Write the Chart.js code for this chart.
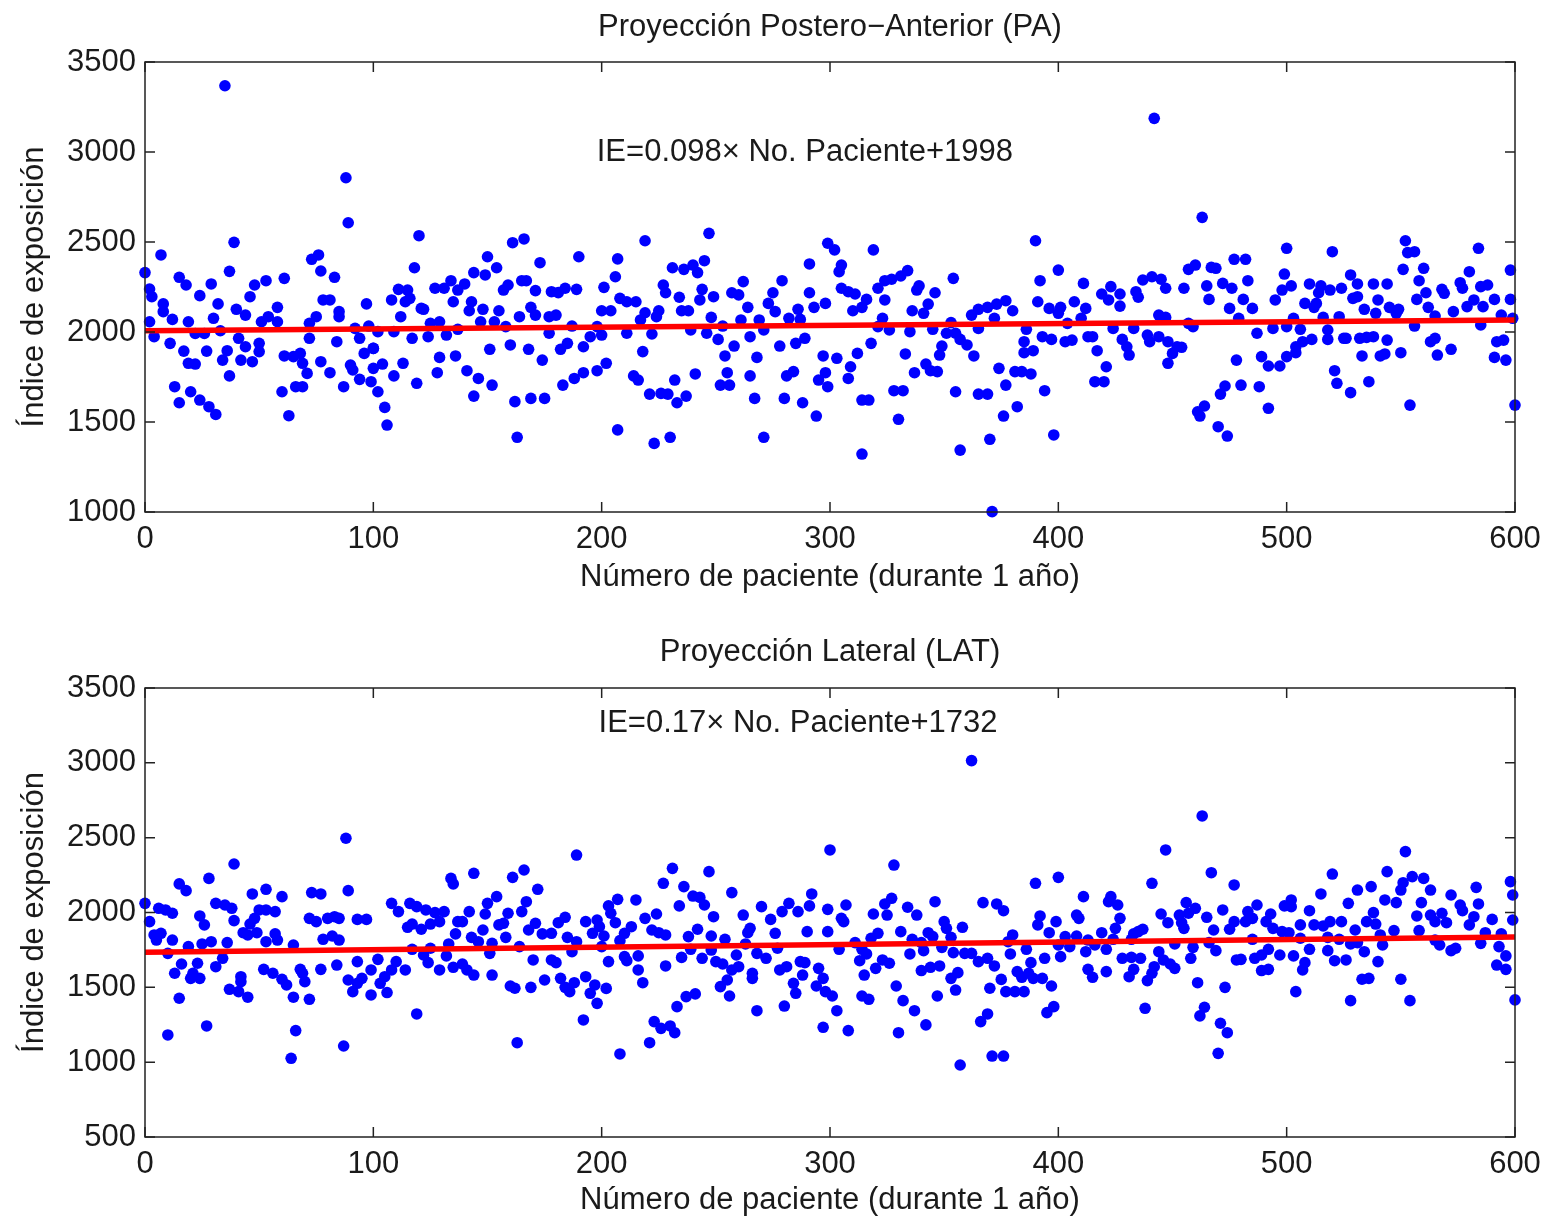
<!DOCTYPE html>
<html>
<head>
<meta charset="utf-8">
<script src="https://cdn.jsdelivr.net/npm/chart.js@4.4.1/dist/chart.umd.min.js"></script>
<style>
  body { margin: 0; background: #fff; overflow: hidden; }
  .panel { position: absolute; left: 0; width: 1545px; height: 608px; }
</style>
</head>
<body>
<div class="panel" style="top:0"><canvas id="pa" width="1545" height="608"></canvas></div>
<div class="panel" style="top:608px"><canvas id="lat" width="1545" height="608"></canvas></div>
<script>
// --- Data ---
const xTicks = [0, 100, 200, 300, 400, 500, 600];
const paYTicks = [1000, 1500, 2000, 2500, 3000, 3500];
const latYTicks = [500, 1000, 1500, 2000, 2500, 3000, 3500];

// Proyección Postero-Anterior (PA)
const paX = [
  35,88,89,39,7,0,37,2,3,15,18,29,24,32,8,8,12,2,19,4,11,17,22,26,30,33,27,36,34,19,22,37,13,15,20,24,28,31,40,44,41,44,42,47,50,50,46,48,53,51,54,58,58,61,61,65,68,69,71,60,66,69,63,72,75,72,73,76,77,83,78,81,85,85,84,77,81,87,90,91,94,99,92,94,96,97,98,100,100,100,102,
  120,118,161,166,150,154,173,190,144,149,111,115,108,114,116,127,131,134,137,140,135,143,142,157,159,165,167,171,178,181,184,189,201,112,121,122,148,147,155,164,169,171,177,180,200,102,109,117,125,129,124,132,137,153,158,177,187,198,195,192,185,182,104,113,109,129,136,128,151,160,168,174,141,146,152,119,105,106,144,162,169,175,163,183,188,192,198,
  247,219,207,206,231,236,240,242,245,227,228,234,244,243,249,262,257,260,264,208,211,215,204,219,225,224,235,238,248,217,200,211,222,239,246,253,261,251,258,254,265,269,271,273,275,276,279,282,287,286,291,291,293,298,299,278,285,289,297,218,202,214,216,232,241,255,252,256,265,268,221,226,229,233,237,267,280,281,284,288,294,295,298,299,207,223,230,271,
  302,319,390,305,304,334,331,327,324,321,354,339,338,305,308,311,316,324,314,310,346,343,336,341,323,321,326,335,345,353,351,355,357,360,363,349,348,333,318,312,303,309,308,337,342,344,347,362,365,369,365,372,373,377,380,374,377,381,384,388,386,385,389,385,391,392,393,397,396,400,328,332,314,317,330,355,365,369,376,382,394,370,357,314,398,371,
  442,463,477,482,457,460,467,469,500,499,483,411,437,441,445,447,455,465,472,476,466,481,485,475,498,495,419,423,427,422,427,434,435,407,412,401,400,404,410,444,447,457,459,479,487,494,500,403,406,413,415,424,433,439,440,444,428,430,431,417,421,448,452,454,450,448,416,420,478,489,492,497,500,473,471,480,488,492,464,461,462,470,474,
  552,553,556,584,520,551,560,558,580,598,502,510,515,514,519,524,528,531,538,544,529,531,540,534,539,545,549,548,508,512,513,557,561,562,568,569,565,573,576,579,577,585,588,591,586,582,598,594,599,503,506,516,523,518,518,511,507,504,504,525,526,532,535,538,544,533,541,543,550,556,563,565,566,572,585,592,595,591,596,521,522,528,536,554,600
];
const paY = [
  3368,2857,2607,2498,2428,2330,2337,2239,2196,2304,2261,2267,2202,2156,2156,2113,2070,2057,2057,1974,1937,1894,1992,1992,2076,2007,1894,1896,1844,1826,1822,1756,1696,1607,1668,1622,1585,1542,2126,2094,1965,1918,1844,1835,1937,1891,2196,2261,2285,2057,2085,2137,2057,2298,1867,1863,1881,1826,1770,1668,1696,1696,1535,2048,2085,1965,2404,2428,2339,2304,2178,2178,2113,2085,1946,1835,1774,1696,1816,1789,1737,1724,2020,1965,1881,2156,2033,1909,1798,1909,1668,
  2535,2357,2496,2517,2418,2357,2385,2418,2330,2317,2237,2233,2178,2168,2187,2243,2243,2285,2233,2267,2168,2168,2118,2233,2261,2285,2285,2230,2224,2219,2243,2237,2248,2085,2131,2126,2126,2057,2118,2085,2137,2094,2085,2094,2118,2002,2002,1965,2048,2057,1974,1983,2015,2057,2030,1993,2033,2030,1974,1918,1937,1904,1822,1826,1756,1859,1867,1774,1904,1928,1904,1844,1785,1742,1705,1715,1581,1483,1644,1613,1631,1631,1415,1705,1742,1774,1785,
  2548,2507,2406,2307,2357,2348,2372,2330,2396,2261,2218,2193,2237,2178,2196,2280,2218,2206,2137,2187,2168,2168,2118,2107,2118,2085,2118,2118,2081,2067,1983,1993,1989,2011,1993,2033,2067,1959,1922,1867,1974,2067,2011,2159,2218,2113,2285,2076,2070,2126,2378,2218,2137,2159,2493,1922,1937,1965,1867,1891,1826,1756,1733,1733,1767,1774,1705,1705,1756,1859,1655,1659,1655,1607,1644,1631,1631,1756,1780,1607,1533,1733,1774,1696,1456,1381,1415,1415,
  2456,2456,2507,2372,2335,2341,2311,2293,2285,2243,2298,2256,2233,2243,2224,2211,2181,2178,2137,2118,2218,2155,2118,2104,2076,2030,2011,2002,2015,2052,1993,1993,1959,1928,1867,1922,1872,1878,1937,1881,1854,1807,1742,1774,1822,1785,1780,2094,2126,2137,2020,2076,2155,2174,2118,1798,1705,1780,1780,1767,2015,1946,1896,1885,2168,2285,1974,1959,2131,2344,1674,1674,1622,1622,1515,1668,1655,1655,1533,1585,1674,1404,1344,1322,1428,1002,
  3187,2637,2404,2404,2348,2372,2359,2354,2465,2322,2285,2270,2289,2307,2293,2243,2243,2256,2270,2243,2181,2181,2131,2131,2233,2178,2211,2252,2211,2178,2144,2224,2193,2168,2131,2137,2104,2048,2076,2094,2081,2048,2030,2076,1993,2020,2030,1946,1955,1974,1974,2020,2020,1983,1946,1974,1959,1918,1872,1896,1807,1946,1918,1915,1881,1826,1724,1724,1844,1863,1811,1811,1863,1700,1655,1705,1696,1576,1589,1557,1533,1474,1422,
  2507,2441,2446,2465,2446,2348,2354,2285,2335,2344,2256,2267,2256,2218,2233,2243,2317,2267,2267,2267,2187,2196,2178,2126,2104,2137,2126,2104,2159,2137,2159,2181,2218,2137,2237,2215,2089,2113,2274,2141,2243,2252,2261,2181,2141,2178,2181,2094,2076,2076,2015,2081,2085,2011,1959,1959,1946,1918,1885,1965,1965,1965,1970,1974,1955,1867,1867,1878,1885,2033,1946,1965,1872,1904,2039,1946,1955,1859,1844,1785,1715,1663,1724,1594,1594
];

// Proyección Lateral (LAT)
const latX = [
  88,89,39,28,15,18,0,6,9,12,2,24,26,31,35,38,39,47,53,60,50,53,57,48,46,43,45,49,53,57,58,4,7,5,12,19,25,29,36,10,16,13,23,21,20,24,34,31,42,42,37,41,45,15,52,56,60,62,65,68,69,70,72,65,72,75,73,77,78,82,85,80,83,85,93,97,77,84,93,89,93,95,99,91,99,10,27,66,64,87,
  189,144,166,161,134,135,172,108,116,119,123,111,127,131,142,150,154,167,165,159,149,137,139,129,125,115,117,121,155,157,148,136,143,146,158,152,168,171,174,178,181,184,185,189,193,196,199,198,117,125,133,164,187,200,102,110,108,114,105,103,106,122,124,132,129,135,139,141,144,151,152,170,178,180,160,162,169,175,182,184,186,188,193,195,198,197,119,192,163,
  300,231,247,227,236,257,240,243,245,207,215,203,234,282,292,291,270,204,206,219,224,249,262,274,279,286,299,201,213,210,222,225,228,242,238,248,254,265,264,276,290,299,208,239,248,259,263,268,272,277,210,216,211,216,203,228,235,244,250,253,257,260,266,266,278,281,287,289,288,284,285,295,297,294,298,202,218,252,255,256,237,241,233,268,280,223,226,230,232,221,208,297,
  362,328,400,390,307,305,306,324,327,325,319,334,338,346,367,373,376,392,391,399,396,350,351,358,331,321,318,343,345,336,340,353,380,378,311,304,314,316,313,335,341,349,354,359,362,365,369,372,379,386,388,394,401,323,326,320,340,344,348,315,356,353,375,382,384,387,389,393,397,370,377,381,385,355,301,314,317,329,332,337,347,303,395,398,369,366,308,330,342,371,376,357,
  463,447,441,467,477,411,423,422,426,427,425,408,409,456,460,457,453,445,448,454,455,465,468,472,477,475,483,482,487,485,493,491,494,499,498,419,435,437,433,424,403,408,413,416,400,405,412,421,432,451,459,469,466,485,492,489,486,497,428,432,436,444,446,449,451,458,433,442,441,439,413,415,421,431,478,480,489,492,461,473,438,464,462,471,474,470,
  552,520,544,555,551,560,563,550,598,599,537,531,515,527,583,572,584,502,502,510,543,548,559,576,577,538,557,563,568,590,582,599,506,512,516,519,524,535,539,565,570,580,530,547,558,541,501,506,518,523,528,531,542,565,567,585,587,594,593,510,518,534,572,574,503,521,526,540,596,508,507,592,596,533,536,550,504,528,554,600
];
const latY = [
  2496,2146,2324,2228,2191,2146,2061,2028,2017,1995,1939,1977,1917,2061,2050,2028,1946,2124,2155,2106,2017,2017,2006,1961,1923,1865,1850,1865,1805,1857,1816,1850,1861,1816,1816,1772,1790,1805,1799,1727,1656,1594,1661,1594,1560,1560,1694,1638,1571,1538,1487,1471,1434,1427,1620,1594,1554,1516,1434,1620,1594,1538,1420,1783,1961,1939,2133,2124,1821,1843,1816,1961,1972,1961,1954,1954,1620,1649,1672,1549,1527,1560,1616,1471,1449,1182,1242,1211,1026,1108,
  2384,2262,2284,2235,2228,2191,2155,2061,2061,2039,2017,2006,1999,2006,2006,2061,2106,2072,2006,1995,1990,1939,1939,1939,1923,1901,1923,1888,1917,1928,1883,1857,1834,1805,1834,1794,1883,1928,1857,1861,1932,1968,1834,1805,1939,1861,1905,1950,1754,1761,1790,1772,1738,1772,1687,1672,1616,1616,1571,1527,1465,1716,1665,1710,1616,1634,1656,1616,1582,1727,1582,1683,1683,1665,1509,1494,1500,1549,1560,1500,1471,1531,1571,1460,1393,1516,1322,1282,1130,
  2418,2295,2273,2195,2173,2133,2110,2101,2050,2088,2084,2044,2044,2061,2124,2044,2039,1995,1932,1961,1990,1972,1983,1954,2006,2006,2021,1843,1905,1861,1883,1865,1850,1888,1839,1843,1821,1894,1865,1861,1872,1872,1812,1754,1749,1716,1790,1727,1694,1761,1705,1710,1678,1616,1672,1643,1700,1694,1672,1656,1616,1638,1594,1560,1616,1638,1672,1665,1582,1527,1460,1627,1560,1509,1471,1493,1531,1505,1549,1442,1438,1456,1371,1344,1375,1271,1226,1242,1197,1130,1055,1233,
  3015,2317,2235,2195,2050,1961,1939,2057,2095,1983,1990,2035,1983,2072,2066,2057,2012,1977,1917,1939,1865,1939,1894,1901,1872,1861,1828,1865,1839,1821,1799,1834,1850,1805,1799,1754,1754,1723,1678,1723,1745,1767,1732,1727,1727,1672,1694,1643,1723,1754,1665,1694,1705,1683,1661,1627,1612,1634,1643,1582,1598,1560,1553,1605,1567,1594,1560,1560,1509,1494,1471,1471,1471,1482,1442,1442,1420,1509,1411,1344,1442,1344,1331,1371,1322,1271,1211,1197,1249,1041,1041,981,
  2645,2418,2195,2266,2184,2106,2106,2072,2050,1961,1894,1983,1961,2066,2028,1995,1983,1990,1932,1932,1894,1968,1883,2017,1939,1888,2006,1939,2050,1961,1990,1939,1894,2044,1872,1865,1872,1888,1857,1821,1839,1843,1816,1783,1783,1772,1738,1754,1821,1790,1767,1745,1799,1821,1754,1716,1694,1716,1694,1700,1694,1738,1683,1656,1627,1694,1620,1638,1594,1545,1620,1567,1605,1571,1683,1687,1612,1620,1531,1500,1360,1367,1309,1260,1197,1059,
  2407,2257,2273,2240,2199,2228,2150,2150,2206,2117,2173,2150,2124,2061,2168,2117,2057,2084,2039,2012,2084,2066,2066,2050,2012,1999,1977,1983,1995,1954,1972,1950,1917,1917,1910,1939,1939,1939,1923,1939,1932,1917,1883,1879,1879,1850,1865,1828,1834,1821,1790,1799,1783,1816,1783,1794,1865,1857,1772,1754,1745,1738,1745,1761,1710,1678,1683,1672,1710,1665,1616,1649,1620,1554,1560,1554,1471,1411,1411,1416
];

// Fitted lines as drawn in the picture
const fitX = [0, 600];
const paFitY = [2007, 2066];
const latFitY = [1735, 1837];

const FONT = "'Liberation Sans', Arial, sans-serif";
const TXT = '#1a1a1a';
const FS = 31;

function zip(xs, ys) { return xs.map((x, i) => ({ x: x, y: ys[i] })); }

// MATLAB-like box with inward ticks on all four sides
const boxTicks = {
  id: 'boxTicks',
  afterDatasetsDraw(chart) {
    const { ctx, chartArea: a, scales: { x, y } } = chart;
    const len = 10;
    ctx.save();
    ctx.strokeStyle = '#222';
    ctx.lineWidth = 1.5;
    ctx.strokeRect(a.left, a.top, a.right - a.left, a.bottom - a.top);
    ctx.beginPath();
    x.ticks.forEach(t => {
      const px = x.getPixelForValue(t.value);
      ctx.moveTo(px, a.bottom); ctx.lineTo(px, a.bottom - len);
      ctx.moveTo(px, a.top); ctx.lineTo(px, a.top + len);
    });
    y.ticks.forEach(t => {
      const py = y.getPixelForValue(t.value);
      ctx.moveTo(a.left, py); ctx.lineTo(a.left + len, py);
      ctx.moveTo(a.right, py); ctx.lineTo(a.right - len, py);
    });
    ctx.stroke();
    ctx.restore();
  }
};

// equation text placed in data coordinates
const eqLabel = {
  id: 'eqLabel',
  afterDatasetsDraw(chart, args, opts) {
    const { ctx, scales: { x, y } } = chart;
    ctx.save();
    ctx.font = FS + 'px ' + FONT;
    ctx.fillStyle = TXT;
    ctx.textAlign = 'center';
    ctx.textBaseline = 'middle';
    ctx.fillText(opts.text, x.getPixelForValue(opts.x), y.getPixelForValue(opts.y));
    ctx.restore();
  }
};

function makeChart(id, cfg) {
  return new Chart(document.getElementById(id), {
    type: 'scatter',
    data: {
      datasets: [
        {
          type: 'line',
          data: zip(fitX, cfg.fitY),
          borderColor: '#ff0000',
          borderWidth: 5.5,
          pointRadius: 0,
          fill: false,
          order: 0
        },
        {
          data: zip(cfg.xs, cfg.ys),
          backgroundColor: '#0000ff',
          borderWidth: 0,
          pointRadius: 5.8,
          clip: false,
          order: 1
        }
      ]
    },
    options: {
      responsive: false,
      animation: false,
      devicePixelRatio: 1,
      layout: { padding: { left: 0, right: 30, top: 0, bottom: 0 } },
      plugins: {
        legend: { display: false },
        tooltip: { enabled: false },
        title: {
          display: true,
          fullSize: false,
          text: cfg.title,
          color: TXT,
          font: { family: FONT, size: FS, weight: 'normal' },
          padding: cfg.titlePad
        },
        eqLabel: cfg.eq
      },
      scales: {
        x: {
          type: 'linear',
          min: 0, max: 600,
          afterBuildTicks: s => { s.ticks = xTicks.map(v => ({ value: v })); },
          afterFit: s => { s.height = cfg.xHeight; s.paddingLeft = 0; s.paddingRight = 0; },
          grid: { display: false, drawTicks: false },
          border: { display: false },
          ticks: { color: TXT, font: { family: FONT, size: FS }, padding: 9, maxRotation: 0 },
          title: {
            display: true,
            text: 'Número de paciente (durante 1 año)',
            color: TXT,
            font: { family: FONT, size: FS },
            padding: cfg.xTitlePad
          }
        },
        y: {
          type: 'linear',
          min: cfg.yTicks[0], max: cfg.yTicks[cfg.yTicks.length - 1],
          afterBuildTicks: s => { s.ticks = cfg.yTicks.map(v => ({ value: v })); },
          afterFit: s => { s.width = 145; },
          grid: { display: false, drawTicks: false },
          border: { display: false },
          ticks: { color: TXT, font: { family: FONT, size: FS }, padding: 9, callback: v => String(v) },
          title: {
            display: true,
            text: 'Índice de exposición',
            color: TXT,
            font: { family: FONT, size: FS },
            padding: { top: 16, bottom: 0 }
          }
        }
      }
    },
    plugins: [boxTicks, eqLabel]
  });
}

makeChart('pa', {
  title: 'Proyección Postero\u2212Anterior (PA)',
  titlePad: { top: 8.4, bottom: 16.4 },
  xs: paX, ys: paY, fitY: paFitY,
  yTicks: paYTicks,
  xHeight: 96,
  xTitlePad: { top: 0, bottom: 12 },
  eq: { text: 'IE=0.098\u00d7 No. Paciente+1998', x: 289, y: 3000 }
});

makeChart('lat', {
  title: 'Proyección Lateral (LAT)',
  titlePad: { top: 25.4, bottom: 17.4 },
  xs: latX, ys: latY, fitY: latFitY,
  yTicks: latYTicks,
  xHeight: 79,
  xTitlePad: { top: 0, bottom: -3 },
  eq: { text: 'IE=0.17\u00d7 No. Paciente+1732', x: 286, y: 3266 }
});
</script>
</body>
</html>
